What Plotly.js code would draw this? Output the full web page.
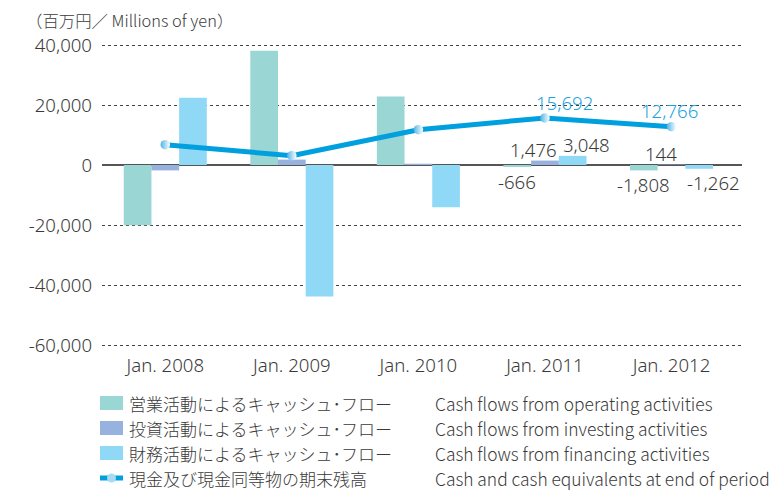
<!DOCTYPE html>
<html>
<head>
<meta charset="utf-8">
<script src="https://cdn.plot.ly/plotly-3.0.1.min.js"></script>
<style>html,body{margin:0;padding:0;background:#fff;}#chart{width:771px;height:490px;}</style>
</head>
<body>
<div id="chart"></div>
<script>
// ---- data ----
const categories = ['Jan. 2008', 'Jan. 2009', 'Jan. 2010', 'Jan. 2011', 'Jan. 2012'];
const operating = [-20100, 38100, 22800, -666, -1808];
const investing = [-1800, 1800, 430, 1476, 144];
const financing = [22400, -43800, -14100, 3048, -1262];
const cashEnd = [6770, 3100, 11770, 15692, 12766];
const labelled = [false, false, false, true, true];
const namesJa = ['営業活動によるキャッシュ･フロー', '投資活動によるキャッシュ･フロー', '財務活動によるキャッシュ･フロー', '現金及び現金同等物の期末残高'];
const namesEn = ['Cash flows from operating activities', 'Cash flows from investing activities', 'Cash flows from financing activities', 'Cash and cash equivalents at end of period'];
const yTicks = [-60000, -40000, -20000, 0, 20000, 40000];
const unitLabel = '（百万円／ Millions of yen）';

// ---- styles ----
const colors = ['#9ad6d3', '#97b2de', '#8fd9f7'];
const lineColor = '#00a0de';
const labelBlue = '#1aa3df';
const textColor = '#3a3a3a';
const fontLatin = 'Noto Sans, DejaVu Sans, sans-serif';
const fontJa = 'Noto Sans CJK JP, Noto Sans, sans-serif';

const W = 771, H = 490, ML = 102, MR = 29, MT = 42, MB = 142;
const PW = W - ML - MR, PH = H - MT - MB;
const px2x = p => (p - ML) / PW;
const px2y = p => (H - MB - p) / PH;
const fmt = v => v.toLocaleString('en-US');

const barSeries = [operating, investing, financing];
const traces = barSeries.map((vals, i) => ({
  type: 'bar', x: categories, y: vals, name: namesJa[i],
  marker: {color: colors[i], line: {width: 0}},
  hoverinfo: 'skip', showlegend: false
}));
traces.push({
  type: 'scatter', mode: 'lines+markers', x: categories, y: cashEnd, name: namesJa[3],
  line: {color: lineColor, width: 5},
  marker: {size: 9.5, color: '#4fb3e6', gradient: {type: 'horizontal', color: '#ffffff'}, line: {width: 0}},
  hoverinfo: 'skip', showlegend: false, cliponaxis: false
});

const annotations = [];
// unit label
annotations.push({xref: 'paper', yref: 'paper', x: px2x(24), y: px2y(20), xanchor: 'left', yanchor: 'middle',
  text: unitLabel, showarrow: false, font: {family: fontJa, size: 16.4, color: textColor, weight: 300}});

// bar value labels
const numSize = 18.6;
const seriesXShift = [-28, 0, 28];
const labelNudge = [0, -11, 14];
barSeries.forEach((vals, s) => {
  vals.forEach((v, i) => {
    if (!labelled[i]) return;
    annotations.push({xref: 'x', yref: 'y', x: categories[i], y: v, xanchor: 'center', yanchor: 'middle',
      xshift: seriesXShift[s] + labelNudge[s], yshift: v >= 0 ? 11 : -14,
      text: fmt(v), showarrow: false, font: {family: fontLatin, size: numSize, color: textColor, weight: 300}});
  });
});
// line value labels
const lineNudge = {3: [20, 15], 4: [-2, 16]};
cashEnd.forEach((v, i) => {
  if (!labelled[i]) return;
  annotations.push({xref: 'x', yref: 'y', x: categories[i], y: v, xanchor: 'center', yanchor: 'middle',
    xshift: lineNudge[i][0], yshift: lineNudge[i][1],
    text: fmt(v), showarrow: false, font: {family: fontLatin, size: numSize, color: labelBlue, weight: 300}});
});

// custom legend
const shapes = [];
const rowY = [403, 428, 453, 478];
rowY.forEach((py, i) => {
  if (i < 3) {
    shapes.push({type: 'rect', xref: 'paper', yref: 'paper', x0: px2x(100), x1: px2x(123), y0: px2y(py - 7), y1: px2y(py + 7),
      fillcolor: colors[i], line: {width: 0}});
  } else {
    shapes.push({type: 'line', xref: 'paper', yref: 'paper', x0: px2x(100), x1: px2x(123), y0: px2y(py), y1: px2y(py),
      line: {color: lineColor, width: 5}});
    shapes.push({type: 'circle', xref: 'paper', yref: 'paper', x0: px2x(107), x1: px2x(116), y0: px2y(py - 4.5), y1: px2y(py + 4.5),
      fillcolor: '#a8daf3', line: {width: 0}});
  }
  annotations.push({xref: 'paper', yref: 'paper', x: px2x(127), y: px2y(py), xanchor: 'left', yanchor: 'middle',
    text: namesJa[i], showarrow: false, font: {family: fontJa, size: 17, color: textColor, weight: 300}});
  annotations.push({xref: 'paper', yref: 'paper', x: px2x(433), y: px2y(py), xanchor: 'left', yanchor: 'middle',
    text: namesEn[i], showarrow: false, font: {family: fontJa, size: 17.4, color: textColor, weight: 300}});
});

const yPad = 1000;
const layout = {
  width: W, height: H,
  margin: {l: ML, r: MR, t: MT, b: MB, pad: 0},
  paper_bgcolor: '#ffffff', plot_bgcolor: '#ffffff',
  barmode: 'group', bargap: 0.34375, bargroupgap: 0,
  showlegend: false,
  xaxis: {type: 'category', showgrid: false, zeroline: false, showline: false, ticks: '',
    tickfont: {family: fontLatin, size: numSize, color: textColor, weight: 300}, ticklabelstandoff: 4, fixedrange: true},
  yaxis: {range: [-60000 - yPad, 40000 + yPad], tickmode: 'array', tickvals: yTicks, ticktext: yTicks.map(fmt),
    showgrid: true, gridcolor: '#444444', gridwidth: 1, griddash: 'dot',
    zeroline: true, zerolinecolor: '#555555', zerolinewidth: 1.6, showline: false, ticks: '',
    tickfont: {family: fontLatin, size: numSize, color: textColor, weight: 300}, ticklabelstandoff: 9, fixedrange: true},
  annotations: annotations,
  shapes: shapes
};

Plotly.newPlot('chart', traces, layout, {displayModeBar: false, staticPlot: true});
</script>
</body>
</html>
